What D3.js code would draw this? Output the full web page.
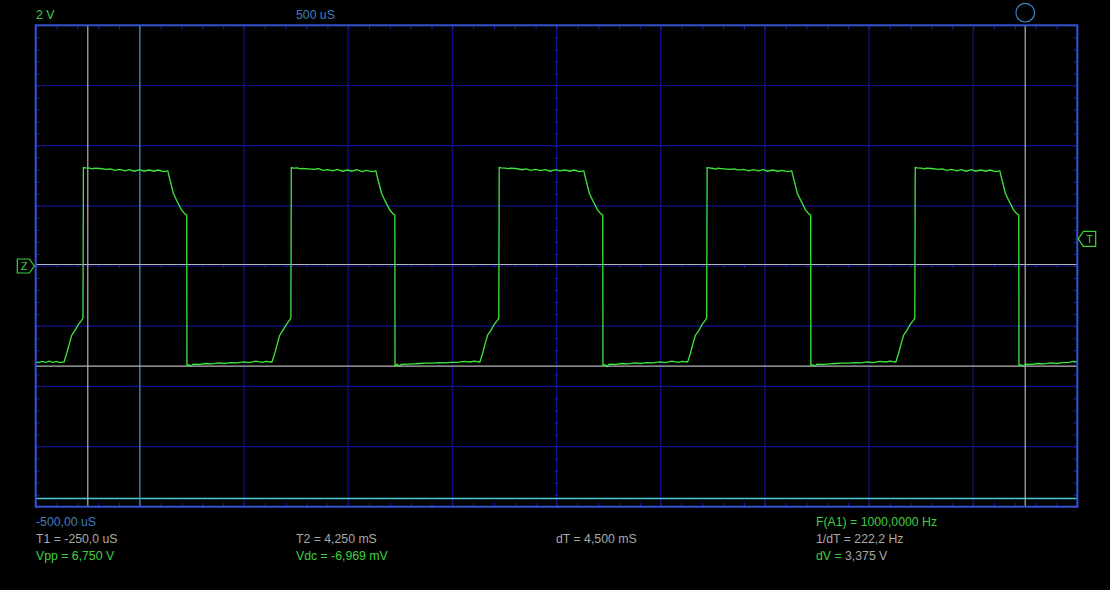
<!DOCTYPE html>
<html>
<head>
<meta charset="utf-8">
<script src="https://cdn.jsdelivr.net/npm/d3@7/dist/d3.min.js"></script>
<style>
  html, body { margin: 0; padding: 0; background: #000; }
  svg { display: block; }
  text { font-family: "Liberation Sans", Arial, sans-serif; font-size: 13.5px; }
</style>
</head>
<body>
<svg id="scope" width="1110" height="590"></svg>
<script>
// ---------------- DATA ----------------
const timeDomain = [-500, 4500];      // uS across the screen (500 uS/div, 10 div)
const voltDomain = [-8, 8];           // V (2 V/div, 8 div)
const majorTimeTicks = [-500, 0, 500, 1000, 1500, 2000, 2500, 3000, 3500, 4000, 4500];
const majorVoltTicks = [-8, -6, -4, -2, 0, 2, 4, 6, 8];

const cursorT1 = -250;      // uS
const cursorT2 = 4250;      // uS
const triggerTime = 0;      // uS
const cursorV1 = 0.05;      // V
const cursorV2 = -3.325;    // V
const triggerLevel = 0.9;   // V
const refLevel = -7.73;     // V (cyan reference line)
const zeroLevel = 0;        // V

const topLabels = ["2 V", "500 uS"];
const startLabel = "-500,00 uS";
const cursorLabels = ["T1 = -250,0 uS", "T2 = 4,250 mS", "dT = 4,500 mS", "1/dT = 222,2 Hz"];
const measureLabels = ["Vpp = 6,750 V", "Vdc = -6,969 mV", "F(A1) = 1000,0000 Hz"];
const dvLabel = ["dV =", " 3,375 V"];

// waveform samples [time uS, volts], per cycle
const lead = [[-500,-3.18],[-488,-3.21],[-470,-3.17],[-452,-3.20],[-435,-3.16],[-418,-3.20],[-400,-3.17],[-384,-3.21],[-366,-3.19]];
const cycle1 = [[-364,-3.19],[-351,-2.90],[-338,-2.57],[-327,-2.30],[-311,-2.14],[-295,-1.94],[-279,-1.80],[-273,-1.73],[-271,3.27],
  [-261,3.26],[-241,3.25],[-226,3.22],[-221,3.25],[-191,3.24],[-161,3.21],[-141,3.23],[-121,3.18],[-96,3.21],[-71,3.16],[-51,3.20],[-26,3.15],[-1,3.20],[19,3.15],[44,3.19],[69,3.15],[89,3.19],[114,3.14],[134,3.16],
  [145,2.85],[161,2.41],[177,2.18],[201,1.85],[217,1.73],[225,1.70],[226,-3.30],
  [236,-3.28],[246,-3.33],[256,-3.26],[286,-3.27],[316,-3.24],[346,-3.25],[376,-3.22],[406,-3.24],[436,-3.21],[466,-3.22],[496,-3.19],[526,-3.21],[556,-3.16],[586,-3.20],[606,-3.17],[632,-3.19]];
const cycle2 = [[634,-3.19],[647,-2.92],[660,-2.58],[671,-2.31],[687,-2.13],[703,-1.95],[719,-1.79],[725,-1.72],[727,3.27],
  [737,3.25],[757,3.26],[772,3.22],[777,3.24],[807,3.23],[837,3.21],[857,3.24],[877,3.18],[902,3.20],[927,3.16],[947,3.21],[972,3.15],[997,3.19],[1017,3.15],[1042,3.20],[1067,3.14],[1087,3.18],[1112,3.14],[1133,3.16],
  [1144,2.85],[1160,2.42],[1176,2.18],[1200,1.86],[1216,1.73],[1224,1.70],[1225,-3.31],
  [1235,-3.27],[1245,-3.33],[1255,-3.27],[1285,-3.26],[1315,-3.25],[1345,-3.24],[1375,-3.23],[1405,-3.23],[1435,-3.21],[1465,-3.22],[1495,-3.20],[1525,-3.20],[1555,-3.17],[1585,-3.19],[1605,-3.16],[1630,-3.19]];
const cycle3 = [[1632,-3.19],[1645,-2.91],[1658,-2.57],[1669,-2.30],[1685,-2.14],[1701,-1.94],[1717,-1.80],[1723,-1.73],[1725,3.27],
  [1735,3.26],[1755,3.25],[1770,3.23],[1775,3.25],[1805,3.24],[1835,3.20],[1855,3.23],[1875,3.18],[1900,3.21],[1925,3.17],[1945,3.20],[1970,3.15],[1995,3.20],[2015,3.16],[2040,3.19],[2065,3.15],[2085,3.19],[2110,3.14],[2131,3.16],
  [2142,2.85],[2158,2.41],[2174,2.18],[2198,1.85],[2214,1.73],[2222,1.70],[2223,-3.30],
  [2233,-3.28],[2243,-3.34],[2253,-3.26],[2283,-3.27],[2313,-3.24],[2343,-3.25],[2373,-3.22],[2403,-3.24],[2433,-3.21],[2463,-3.22],[2493,-3.19],[2523,-3.21],[2553,-3.16],[2583,-3.20],[2603,-3.17],[2628,-3.19]];
const cycle4 = [[2630,-3.18],[2643,-2.90],[2656,-2.56],[2667,-2.30],[2683,-2.15],[2699,-1.94],[2715,-1.80],[2721,-1.73],[2723,3.27],
  [2733,3.26],[2753,3.24],[2768,3.22],[2773,3.25],[2803,3.23],[2833,3.21],[2853,3.23],[2873,3.19],[2898,3.21],[2923,3.16],[2943,3.20],[2968,3.16],[2993,3.20],[3013,3.15],[3038,3.19],[3063,3.15],[3083,3.18],[3108,3.14],[3129,3.16],
  [3140,2.86],[3156,2.41],[3172,2.19],[3196,1.85],[3212,1.73],[3220,1.70],[3221,-3.30],
  [3231,-3.28],[3241,-3.33],[3251,-3.26],[3281,-3.27],[3311,-3.25],[3341,-3.24],[3371,-3.23],[3401,-3.23],[3431,-3.21],[3461,-3.22],[3491,-3.19],[3521,-3.21],[3551,-3.17],[3581,-3.19],[3601,-3.16],[3627,-3.19]];
const cycle5 = [[3629,-3.19],[3642,-2.90],[3655,-2.57],[3666,-2.30],[3682,-2.14],[3698,-1.94],[3714,-1.80],[3720,-1.73],[3722,3.27],
  [3732,3.26],[3752,3.25],[3767,3.22],[3772,3.25],[3802,3.24],[3832,3.21],[3852,3.23],[3872,3.18],[3897,3.21],[3922,3.16],[3942,3.20],[3967,3.15],[3992,3.20],[4012,3.15],[4037,3.19],[4062,3.15],[4082,3.19],[4107,3.14],[4128,3.16],
  [4139,2.85],[4155,2.41],[4171,2.18],[4195,1.85],[4211,1.73],[4219,1.70],[4220,-3.30],
  [4230,-3.28],[4240,-3.33],[4250,-3.26],[4280,-3.27],[4310,-3.24],[4340,-3.25],[4370,-3.22],[4400,-3.24],[4430,-3.21],[4460,-3.20],[4480,-3.17],[4500,-3.19]];

// ---------------- DRAW ----------------
const svg = d3.select("#scope");
const L = 35.7, R = 1077.3, T = 25.3, B = 506.7;
const x = d3.scaleLinear().domain(timeDomain).range([L, R]);
const y = d3.scaleLinear().domain(voltDomain).range([B, T]);

const gridCol = "#12128a", tickCol = "#1c1ca0", borderCol = "#3352cc";
const green = "#3fd23f", traceCol = "#3de83d", grey = "#a9a9a9", blue = "#3f7fbf";

// grid lines
svg.append("g").selectAll("line").data(majorTimeTicks).join("line")
  .attr("x1", d => x(d)).attr("x2", d => x(d)).attr("y1", T).attr("y2", B)
  .attr("stroke", gridCol).attr("stroke-width", 1.2);
svg.append("g").selectAll("line").data(majorVoltTicks).join("line")
  .attr("y1", d => y(d)).attr("y2", d => y(d)).attr("x1", L).attr("x2", R)
  .attr("stroke", gridCol).attr("stroke-width", 1.2);

// minor ticks through axes
const minorT = d3.range(timeDomain[0], timeDomain[1] + 1, 100);
const minorV = d3.range(voltDomain[0], voltDomain[1] + 0.001, 0.4);
function styleAxis(g) {
  g.select(".domain").remove();
  g.selectAll("text").remove();
  g.selectAll("line").attr("stroke", tickCol).attr("stroke-width", 1);
}
svg.append("g").attr("transform", `translate(0,${T})`)
  .call(d3.axisBottom(x).tickValues(minorT).tickSize(4).tickFormat("")).call(styleAxis);
svg.append("g").attr("transform", `translate(0,${B})`)
  .call(d3.axisTop(x).tickValues(minorT).tickSize(4).tickFormat("")).call(styleAxis);
svg.append("g").attr("transform", `translate(0,${y(0) - 2})`)
  .call(d3.axisBottom(x).tickValues(minorT).tickSize(4).tickFormat("")).call(styleAxis);
svg.append("g").attr("transform", `translate(${L},0)`)
  .call(d3.axisRight(y).tickValues(minorV).tickSize(4).tickFormat("")).call(styleAxis);
svg.append("g").attr("transform", `translate(${R},0)`)
  .call(d3.axisLeft(y).tickValues(minorV).tickSize(4).tickFormat("")).call(styleAxis);
svg.append("g").attr("transform", `translate(${x(2000) - 2},0)`)
  .call(d3.axisRight(y).tickValues(minorV).tickSize(4).tickFormat("")).call(styleAxis);

// reference (cyan) lines
svg.append("line").attr("x1", L).attr("x2", R).attr("y1", y(refLevel)).attr("y2", y(refLevel))
  .attr("stroke", "#4cc8d8").attr("stroke-width", 1.5);
svg.append("line").attr("x1", x(triggerTime)).attr("x2", x(triggerTime)).attr("y1", T).attr("y2", B)
  .attr("stroke", "#3a9c9c").attr("stroke-width", 1.2);

// cursors
[cursorV1, cursorV2].forEach(v => svg.append("line")
  .attr("x1", L).attr("x2", R).attr("y1", y(v)).attr("y2", y(v))
  .attr("stroke", "#b4b4b4").attr("stroke-width", 1.2));
[cursorT1, cursorT2].forEach(t => svg.append("line")
  .attr("x1", x(t)).attr("x2", x(t)).attr("y1", T).attr("y2", B)
  .attr("stroke", "#b4b4b4").attr("stroke-width", 1.2));

// waveform
const trace = [].concat(lead, cycle1, cycle2, cycle3, cycle4, cycle5);
svg.append("path").datum(trace)
  .attr("d", d3.line().x(d => x(d[0])).y(d => y(d[1])))
  .attr("fill", "none").attr("stroke", traceCol).attr("stroke-width", 1.3);

// border
svg.append("rect").attr("x", L).attr("y", T).attr("width", R - L).attr("height", B - T)
  .attr("fill", "none").attr("stroke", borderCol).attr("stroke-width", 2);

// cursor handle circle
svg.append("circle").attr("cx", x(cursorT2)).attr("cy", 12.7).attr("r", 9.3)
  .attr("fill", "none").attr("stroke", "#3f86c4").attr("stroke-width", 1.2);

// zero marker (Z) and trigger marker (T)
const zy = y(zeroLevel);
svg.append("path")
  .attr("d", `M${L - 18.4},${zy - 7} H${L - 6.4} L${L - 1.4},${zy} L${L - 6.4},${zy + 7} H${L - 18.4} Z`)
  .attr("fill", "none").attr("stroke", green).attr("stroke-width", 1.2);
svg.append("text").attr("x", L - 11.5).attr("y", zy + 4.3).attr("text-anchor", "middle")
  .attr("fill", green).style("font-size", "11px").text("Z");
const ty = y(triggerLevel);
svg.append("path")
  .attr("d", `M${R + 1},${ty} L${R + 6},${ty - 7.5} H${R + 18.4} V${ty + 7.5} H${R + 6} Z`)
  .attr("fill", "none").attr("stroke", green).attr("stroke-width", 1.2);
svg.append("text").attr("x", R + 12.4).attr("y", ty + 4.3).attr("text-anchor", "middle")
  .attr("fill", green).style("font-size", "11px").text("T");

// text readouts (slightly condensed)
const sx = 0.91;
const tg = svg.append("g").attr("transform", `scale(${sx},1)`);
function label(px, py, str, col) {
  return tg.append("text").attr("x", px / sx).attr("y", py).attr("fill", col).text(str);
}
label(36, 19, topLabels[0], green);
label(296, 19, topLabels[1], blue);
label(36, 526, startLabel, blue);
label(36, 543, cursorLabels[0], grey);
label(296, 543, cursorLabels[1], grey);
label(556, 543, cursorLabels[2], grey);
label(816, 543, cursorLabels[3], grey);
label(36, 560, measureLabels[0], green);
label(296, 560, measureLabels[1], green);
label(816, 526, measureLabels[2], green);
const dv = tg.append("text").attr("x", 816 / sx).attr("y", 560);
dv.append("tspan").attr("fill", green).text(dvLabel[0]);
dv.append("tspan").attr("fill", grey).text(dvLabel[1]);
</script>
</body>
</html>
